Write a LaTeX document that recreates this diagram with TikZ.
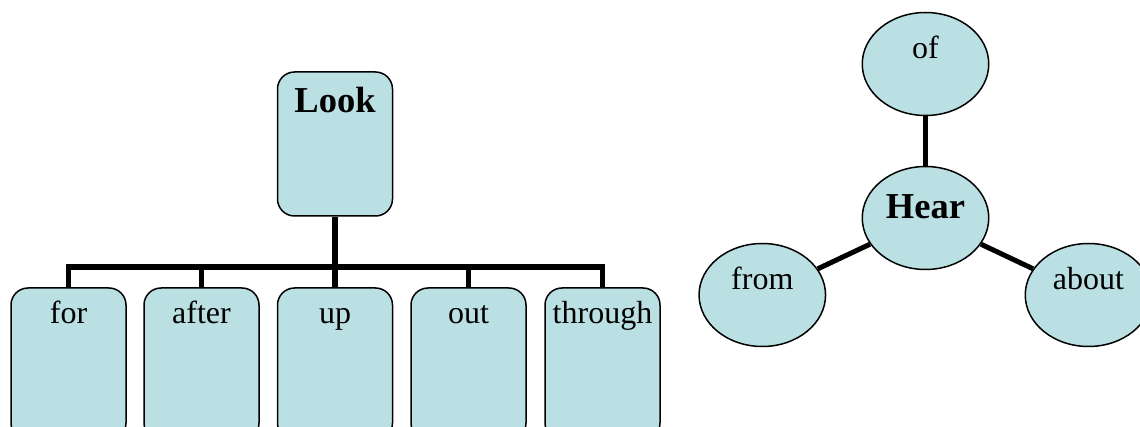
\documentclass[tikz,border=0pt]{standalone}
\usepackage{fontspec}
\setmainfont{Liberation Serif}
\usetikzlibrary{shapes.geometric}
\definecolor{boxfill}{RGB}{187,224,227}
\tikzset{
  boxnode/.style={draw=black, line width=1.5pt, fill=boxfill, rounded corners=17pt,
    rectangle, inner sep=0pt, minimum width=115pt, font=\fontsize{32}{36}\selectfont},
  headbox/.style={boxnode, minimum height=144pt, text height=25pt, text depth=87pt,
    font=\fontsize{36.5}{40}\selectfont\bfseries},
  childbox/.style={boxnode, minimum height=152pt, text height=22pt, text depth=102pt},
  ellnode/.style={draw=black, line width=1.5pt, fill=boxfill, ellipse, inner sep=0pt,
    minimum width=126.5pt, minimum height=103pt, font=\fontsize{32}{36}\selectfont,
    text height=22pt, text depth=33pt},
  conn/.style={line width=5.5pt, draw=black},
}
\begin{document}
\begin{tikzpicture}[x=1pt,y=-1pt]
\clip (0,0) rectangle (1140,427);
% tree
\node[headbox] (look) at (335,144) {Look};
\node[childbox] (for) at (68.5,364) {for};
\node[childbox] (after) at (201.5,364) {after};
\node[childbox] (up) at (335,364) {up};
\node[childbox] (out) at (468.5,364) {out};
\node[childbox] (through) at (602.5,364) {through};
\coordinate (bar) at (335,267);
\draw[conn] (look.south) -- (bar);
\foreach \c in {for,after,up,out,through}{
  \draw[conn] (\c.north) |- (bar);
}
% hub
\node[ellnode] (of) at (925.5,64) {of};
\node[ellnode, font=\fontsize{36.5}{40}\selectfont\bfseries, text height=24pt, text depth=22pt] (hear) at (925.5,218) {Hear};
\node[ellnode] (from) at (762.3,295) {from};
\node[ellnode] (about) at (1088.5,295) {about};
\draw[conn, line width=5pt] (hear) -- (of);
\draw[conn, line width=5pt] (hear) -- (from);
\draw[conn, line width=5pt] (hear) -- (about);
\end{tikzpicture}
\end{document}
